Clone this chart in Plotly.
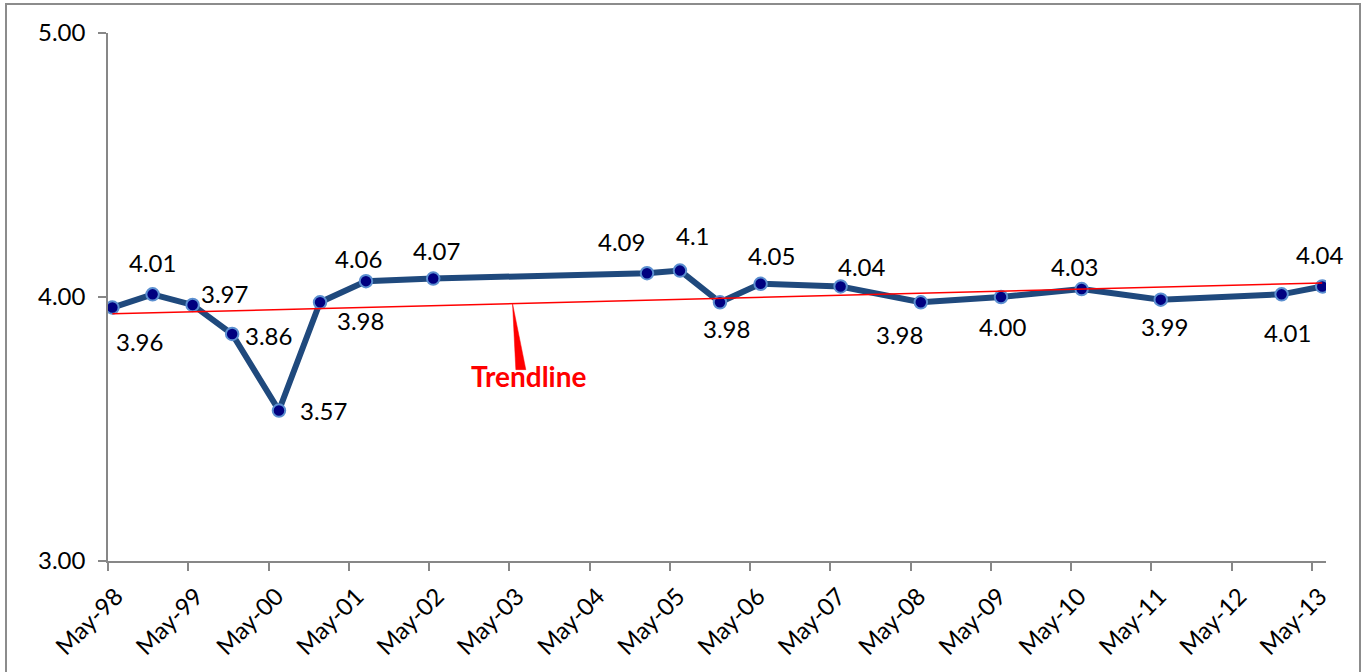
import numpy as np
import pandas as pd
import plotly.graph_objects as go

# Survey dates and scores
dates = [
    "1998-05-21", "1998-11-20", "1999-05-21", "1999-11-17", "2000-06-17",
    "2000-12-21", "2001-07-18", "2002-05-20", "2005-01-17", "2005-06-16",
    "2005-12-15", "2006-06-18", "2007-06-17", "2008-06-16", "2009-06-16",
    "2010-06-18", "2011-06-13", "2012-12-14", "2013-06-17",
]
scores = [
    3.96, 4.01, 3.97, 3.86, 3.57,
    3.98, 4.06, 4.07, 4.09, 4.10,
    3.98, 4.05, 4.04, 3.98, 4.00,
    4.03, 3.99, 4.01, 4.04,
]
score_labels = [
    "3.96", "4.01", "3.97", "3.86", "3.57",
    "3.98", "4.06", "4.07", "4.09", "4.1",
    "3.98", "4.05", "4.04", "3.98", "4.00",
    "4.03", "3.99", "4.01", "4.04",
]
tick_dates = [f"{y}-05-01" for y in range(1998, 2014)]
tick_labels = [f"May-{y % 100:02d}" for y in range(1998, 2014)]
y_ticks = [3.0, 4.0, 5.0]

# label offsets (px) relative to each marker
label_dx = [27, 0, 32, 36, 45, 40, -7, 3, -26, 13, 7, 11, 21, -21, 2, -7, 4, 6, -2]
label_dy = [34, -32, -11, 2, 0, 18, -23, -28, -32, -35, 26, -28, -20, 32, 29, -23, 27, 38, -32]

W, H = 1367, 672
M_L, M_R, M_T, M_B = 108, 41, 33, 111
PW, PH = W - M_L - M_R, H - M_T - M_B
X_START, X_END = "1998-05-01", "2013-07-04"
FONT = "Lato, 'Open Sans', sans-serif"

dt = pd.to_datetime(dates)
t0 = pd.Timestamp(X_START)
t1 = pd.Timestamp(X_END)
days = np.array([(d - t0).days for d in dt], dtype=float)

# linear trend over time
slope, intercept = np.polyfit(days, np.array(scores), 1)
trend_x = [dt[0], dt[-1]]
trend_y = [intercept + slope * days[0], intercept + slope * days[-1]]

fig = go.Figure()
fig.add_trace(go.Scatter(
    x=dt, y=scores, mode="lines+markers",
    line=dict(color="#1F497D", width=6),
    marker=dict(size=12.5, color="#000080", line=dict(color="#5B8FD0", width=2)),
    hoverinfo="x+y", showlegend=False,
))
fig.add_trace(go.Scatter(
    x=trend_x, y=trend_y, mode="lines",
    line=dict(color="#FF0000", width=1.5),
    hoverinfo="skip", showlegend=False,
))

for d, v, txt, dx, dy in zip(dt, scores, score_labels, label_dx, label_dy):
    fig.add_annotation(
        x=d, y=v, text=txt, showarrow=False,
        xshift=dx, yshift=-dy,
        font=dict(family=FONT, size=24, color="#000000"),
    )

# callout pointing at the trend line
span = (t1 - t0).days
tip_day = (pd.Timestamp("2003-05-16") - t0).days
tip_val = intercept + slope * tip_day
tip_px = tip_day / span * PW
tip_py = (tip_val - 3.0) / 2.0 * PH


def to_paper(px, py):
    return px / PW, py / PH


ax_, ay_ = to_paper(tip_px, tip_py)
bx1, by1 = to_paper(tip_px + 3.3, tip_py - 66)
bx2, by2 = to_paper(tip_px + 13.3, tip_py - 66)
fig.add_shape(
    type="path", xref="paper", yref="paper",
    path=f"M {ax_} {ay_} L {bx1} {by1} L {bx2} {by2} Z",
    fillcolor="#FF0000", line=dict(color="#FF0000", width=0.5),
)
tx, ty = to_paper(tip_px + 16, tip_py - 72)
fig.add_annotation(
    x=tx, y=ty, xref="paper", yref="paper", text="<b>Trendline</b>",
    showarrow=False, xanchor="center", yanchor="middle",
    font=dict(family=FONT, size=28, color="#FF0000"),
)

# chart-area border
fig.add_shape(
    type="rect", xref="paper", yref="paper",
    x0=(6 - M_L) / PW, x1=(1360 - M_L) / PW,
    y0=(H - M_B - 700) / PH, y1=1 + (M_T - 4) / PH,
    line=dict(color="#8C8C8C", width=2), fillcolor="rgba(0,0,0,0)",
    layer="below",
)

fig.update_layout(
    width=W, height=H,
    margin=dict(l=M_L, r=M_R, t=M_T, b=M_B, autoexpand=False),
    paper_bgcolor="white", plot_bgcolor="white",
    font=dict(family=FONT, size=23, color="#000000"),
    xaxis=dict(
        type="date", range=[X_START, X_END], automargin=False,
        tickvals=tick_dates, ticktext=tick_labels, tickangle=-45,
        showgrid=False, zeroline=False,
        showline=True, linecolor="#878787", linewidth=1.5,
        ticks="outside", ticklen=8, tickcolor="#878787", tickwidth=1.5,
        tickfont=dict(family=FONT, size=24, color="#000000"),
        ticklabelstandoff=2, ticklabelshift=8,
    ),
    yaxis=dict(
        range=[3, 5], tickvals=y_ticks, tickformat=".2f", automargin=False,
        showgrid=False, zeroline=False,
        showline=True, linecolor="#878787", linewidth=1.5,
        ticks="outside", ticklen=8, tickcolor="#878787", tickwidth=1.5,
        tickfont=dict(family=FONT, size=24, color="#000000"),
        ticklabelstandoff=8,
    ),
)

fig.write_html("out.html")
